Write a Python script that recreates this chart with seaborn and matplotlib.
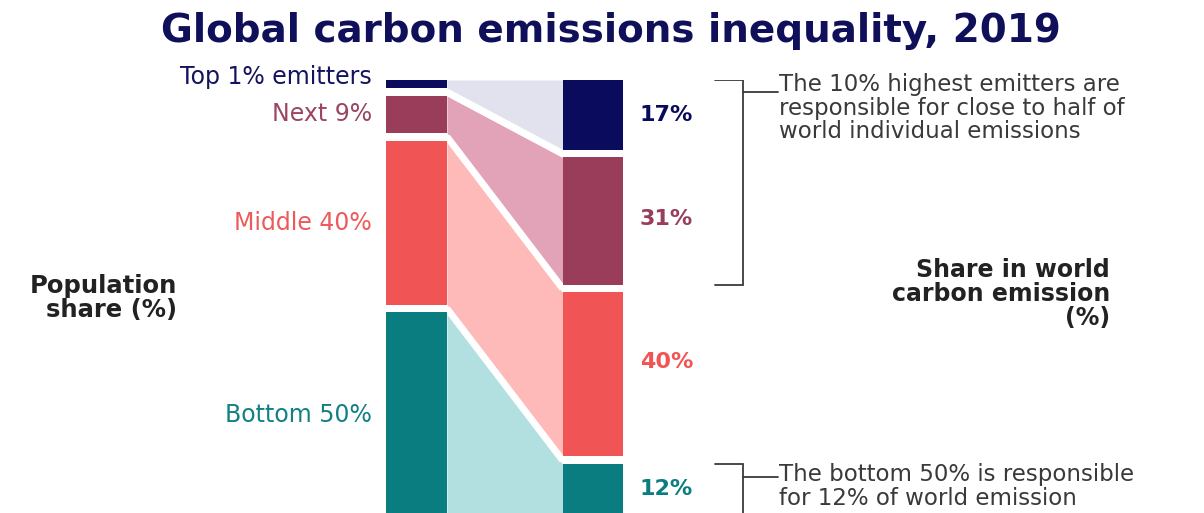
import matplotlib
matplotlib.use("Agg")
import matplotlib.pyplot as plt
import seaborn as sns

# ---------------- data ----------------
groups = ["Top 1% emitters", "Next 9%", "Middle 40%", "Bottom 50%"]
population_share = [1, 9, 40, 50]
emission_share = [17, 31, 40, 12]
emission_labels = ["17%", "31%", "40%", "12%"]
title = "Global carbon emissions inequality, 2019"
left_title = "Population\nshare (%)"
right_title = "Share in world\ncarbon emission\n(%)"
note_top = "The 10% highest emitters are\nresponsible for close to half of\nworld individual emissions"
note_bottom = "The bottom 50% is responsible\nfor 12% of world emission"

# ---------------- style ----------------
sns.set_theme(style="white")
plt.rcParams["font.family"] = ["DejaVu Sans"]

dark = ["#0b0b5e", "#993d5a", "#f05454", "#0a7d80"]
light = ["#e2e2ee", "#e2a3b8", "#fdbab8", "#b2dfe0"]
text_col = ["#14145e", "#9b4562", "#ee5a5a", "#128085"]
grey = "#3a3a3a"

W, H = 1204, 513
fig = plt.figure(figsize=(W / 100, H / 100), dpi=100)
fig.patch.set_facecolor("white")
top_px = 80
ax = fig.add_axes([0, 0, 1, (H - top_px) / H])
px_per_unit = 4.1
ax.set_ylim((H - top_px) / px_per_unit, 0)
bar_px = 176.5
center0 = 416.5
ax.set_xlim(-center0 / bar_px, (W - center0) / bar_px)
ax.axis("off")

gap = 1.9
min_h = 2.0
width = 0.345


def stack(vals):
    tops, bots = [], []
    y = 0.0
    for v in vals:
        h = max(v, min_h)
        tops.append(y)
        bots.append(y + h)
        y += h + gap
    return tops, bots


lt, lb = stack(population_share)
rt, rb = stack(emission_share)

x0 = 0 + width / 2
x1 = 1 - width / 2

# bands
for i in range(len(groups)):
    ax.fill_between([x0, x1], [lt[i], rt[i]], [lb[i], rb[i]],
                    color=light[i], linewidth=0, zorder=1)
# white separators of constant visual width between bands
for i in range(len(groups) - 1):
    yl = (lb[i] + lt[i + 1]) / 2
    yr = (rb[i] + rt[i + 1]) / 2
    ax.plot([x0, x1], [yl, yr], color="white", lw=5.0,
            solid_capstyle="butt", zorder=2)

# bars
for i in range(len(groups)):
    ax.bar(0, lb[i] - lt[i], bottom=lt[i], width=width, color=dark[i],
           linewidth=0, zorder=3)
    ax.bar(1, rb[i] - rt[i], bottom=rt[i], width=width, color=dark[i],
           linewidth=0, zorder=3)

# left labels
lab_x = -0.252
for i, g in enumerate(groups):
    yc = (lt[i] + lb[i]) / 2
    if i == 0:
        yc -= 1.7
    ax.text(lab_x, yc, g, ha="right", va="center", fontsize=17,
            color=text_col[i])

# right labels
val_x = 1.266
offsets = [0, -0.5, -3.0, 0]
for i, lab in enumerate(emission_labels):
    yc = (rt[i] + rb[i]) / 2 + offsets[i]
    ax.text(val_x, yc, lab, ha="left", va="center", fontsize=16,
            fontweight="bold", color=dark[i])

# brackets
bx0, bx1, bx2 = 1.691, 1.850, 2.048
ax.plot([bx0, bx1, bx1, bx0], [rt[0], rt[0], rb[1], rb[1]], color=grey, lw=1.3,
        solid_joinstyle="miter")
ax.plot([bx1, bx2], [rt[0] + 2.9, rt[0] + 2.9], color=grey, lw=1.3)
ax.plot([bx0, bx1, bx1], [rt[3], rt[3], rt[3] + 20], color=grey, lw=1.3,
        solid_joinstyle="miter", clip_on=True)
ax.plot([bx1, bx2], [rt[3] + 3.2, rt[3] + 3.2], color=grey, lw=1.3)

note_x = 2.055
ax.text(note_x, rt[0] - 1.6, note_top, ha="left", va="top", fontsize=16.5,
        color=grey, linespacing=1.02)
ax.text(note_x, rt[3] - 0.2, note_bottom, ha="left", va="top", fontsize=16.5,
        color=grey, linespacing=1.02)

# titles
fig.text(611 / W, 1 - 31 / H, title, ha="center", va="center", fontsize=28,
         fontweight="bold", color="#10105a")
fig.text(177 / W, 1 - 298 / H, left_title, ha="right", va="center",
         fontsize=17.5, fontweight="bold", color="#222222",
         multialignment="right", linespacing=1.0)
fig.text(1110 / W, 1 - 294 / H, right_title, ha="right", va="center",
         fontsize=17, fontweight="bold", color="#222222",
         multialignment="right", linespacing=1.0)

fig.savefig("out.png", dpi=100, facecolor="white")
